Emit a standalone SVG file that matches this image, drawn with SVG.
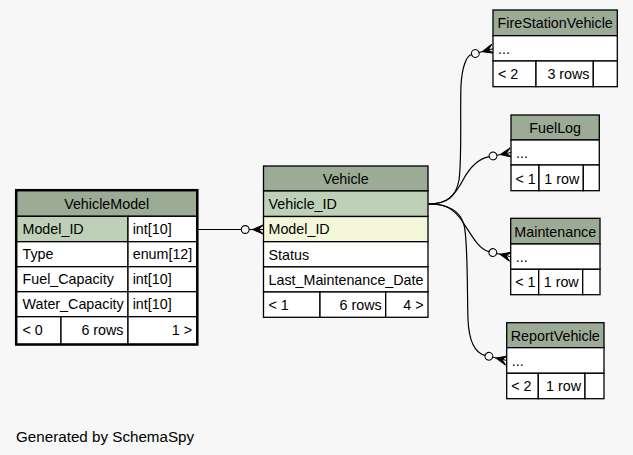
<svg xmlns="http://www.w3.org/2000/svg" xmlns:xlink="http://www.w3.org/1999/xlink" width="633" height="455" viewBox="0 0 633 455">
<style>
.bg{fill:#f7f7f7}
.c{stroke:#000;stroke-width:1.3}
.hdr{fill:#9bab96}
.pk{fill:#bed1b8}
.fk{fill:#f4f7da}
.w{fill:#ffffff}
.focus{fill:none;stroke:#000;stroke-width:2.5}
text{font-family:"Liberation Sans",Arial,Helvetica,sans-serif;font-size:14.3px;fill:#000}
.mid{text-anchor:middle}
.end{text-anchor:end}
.edge{fill:none;stroke:#000;stroke-width:1.2}
.foot{font-size:15.2px}
</style>
<defs>
<g id="crowodot">
<circle cx="-18.3" cy="0" r="3.9" fill="none" stroke="#000" stroke-width="1.1"/>
<line x1="-14.4" y1="0" x2="-10.5" y2="0" stroke="#000" stroke-width="1.1"/>
<polygon points="-11,0 0,-4.7 -5,0 0,4.7" fill="#000" stroke="#000" stroke-width="1"/>
<line x1="-5" y1="0" x2="0" y2="0" stroke="#000" stroke-width="1"/>
</g>
</defs>
<rect class="bg" x="0" y="0" width="633" height="455"/>

<g id="connectors">
<path class="edge" d="M197.3,229.5 L241.3,229.5"/>
<use xlink:href="#crowodot" transform="translate(263.5,229.5)"/>
<path class="edge" d="M428.5,204 C448,204 456,196 459,180 C462,160 460,110 461,85 C462,68 466,56 471.55,54.5"/>
<use xlink:href="#crowodot" transform="translate(493,48.8) rotate(-14.9)"/>
<path class="edge" d="M428.5,204 C448,204 455,195 463,180 C470,167 478.5,158.7 489.2,156.66"/>
<use xlink:href="#crowodot" transform="translate(511,152.5) rotate(-10.8)"/>
<path class="edge" d="M428.5,204 C445,204 452,208 460,218 C469,230 477,248.9 489.07,251.7"/>
<use xlink:href="#crowodot" transform="translate(510.7,256.7) rotate(13)"/>
<path class="edge" d="M428.5,204 C448,204 460,210 464,225 C468,240 467,290 468,320 C469,340 474,352.8 485.1,355.4"/>
<use xlink:href="#crowodot" transform="translate(506.7,360.5) rotate(13.3)"/>
</g>

<g id="VehicleModel">
<rect class="c hdr" x="16.2" y="190.2" width="181.1" height="26.1"/>
<rect class="c pk" x="16.2" y="216.3" width="111.8" height="25.4"/>
<rect class="c w" x="128" y="216.3" width="69.3" height="25.4"/>
<rect class="c w" x="16.2" y="241.7" width="111.8" height="25"/>
<rect class="c w" x="128" y="241.7" width="69.3" height="25"/>
<rect class="c w" x="16.2" y="266.7" width="111.8" height="25"/>
<rect class="c w" x="128" y="266.7" width="69.3" height="25"/>
<rect class="c w" x="16.2" y="291.7" width="111.8" height="25"/>
<rect class="c w" x="128" y="291.7" width="69.3" height="25"/>
<rect class="c w" x="16.2" y="316.7" width="44.8" height="27.8"/>
<rect class="c w" x="61" y="316.7" width="67" height="27.8"/>
<rect class="c w" x="128" y="316.7" width="69.3" height="27.8"/>
<rect class="focus" x="16.2" y="190.2" width="181.1" height="154.3"/>
<text class="mid" x="106.7" y="209">VehicleModel</text>
<text x="22.5" y="234.3">Model_ID</text>
<text x="132.7" y="234.3">int[10]</text>
<text x="22.5" y="259.3">Type</text>
<text x="132.7" y="259.3">enum[12]</text>
<text x="22.5" y="284.3">Fuel_Capacity</text>
<text x="132.7" y="284.3">int[10]</text>
<text x="22.5" y="309.3">Water_Capacity</text>
<text x="132.7" y="309.3">int[10]</text>
<text x="22.5" y="335">&lt; 0</text>
<text class="end" x="123.5" y="335">6 rows</text>
<text class="end" x="192" y="335">1 &gt;</text>
</g>

<g id="Vehicle">
<rect class="c hdr" x="263.5" y="166" width="164.5" height="25"/>
<rect class="c pk" x="263.5" y="191" width="164.5" height="25.5"/>
<rect class="c fk" x="263.5" y="216.5" width="164.5" height="25.2"/>
<rect class="c w" x="263.5" y="241.7" width="164.5" height="25.2"/>
<rect class="c w" x="263.5" y="266.9" width="164.5" height="25.1"/>
<rect class="c w" x="263.5" y="292" width="56.5" height="25.3"/>
<rect class="c w" x="320" y="292" width="65.7" height="25.3"/>
<rect class="c w" x="385.7" y="292" width="42.3" height="25.3"/>
<text class="mid" x="345.7" y="184">Vehicle</text>
<text x="268.5" y="209.2">Vehicle_ID</text>
<text x="268.5" y="234.3">Model_ID</text>
<text x="268.5" y="259.5">Status</text>
<text x="268.5" y="284.6">Last_Maintenance_Date</text>
<text x="268.5" y="310">&lt; 1</text>
<text class="end" x="381.7" y="310">6 rows</text>
<text class="end" x="423.5" y="310">4 &gt;</text>
</g>

<g id="FireStationVehicle">
<rect class="c hdr" x="493" y="10" width="124.3" height="25.7"/>
<rect class="c w" x="493" y="35.7" width="124.3" height="25.3"/>
<rect class="c w" x="493" y="61" width="43" height="25.7"/>
<rect class="c w" x="536" y="61" width="57.3" height="25.7"/>
<rect class="c w" x="593.3" y="61" width="24" height="25.7"/>
<text class="mid" x="555.2" y="28.2">FireStationVehicle</text>
<text x="498" y="53.5">...</text>
<text x="498" y="79.2">&lt; 2</text>
<text class="end" x="589.5" y="79.2">3 rows</text>
</g>

<g id="FuelLog">
<rect class="c hdr" x="511" y="115" width="88.3" height="25"/>
<rect class="c w" x="511" y="140" width="88.3" height="25"/>
<rect class="c w" x="511" y="165" width="28" height="25.7"/>
<rect class="c w" x="539" y="165" width="44.3" height="25.7"/>
<rect class="c w" x="583.3" y="165" width="16" height="25.7"/>
<text class="mid" x="555.2" y="133">FuelLog</text>
<text x="516" y="158.2">...</text>
<text x="515.5" y="183.5">&lt; 1</text>
<text class="end" x="579.3" y="183.5">1 row</text>
</g>

<g id="Maintenance">
<rect class="c hdr" x="510.7" y="218.3" width="89.3" height="25.7"/>
<rect class="c w" x="510.7" y="244" width="89.3" height="25.3"/>
<rect class="c w" x="510.7" y="269.3" width="28" height="25.4"/>
<rect class="c w" x="538.7" y="269.3" width="44" height="25.4"/>
<rect class="c w" x="582.7" y="269.3" width="17.3" height="25.4"/>
<text class="mid" x="555.3" y="236.5">Maintenance</text>
<text x="515.7" y="261.8">...</text>
<text x="515.2" y="287.2">&lt; 1</text>
<text class="end" x="578.7" y="287.2">1 row</text>
</g>

<g id="ReportVehicle">
<rect class="c hdr" x="506.7" y="322.7" width="97.3" height="25"/>
<rect class="c w" x="506.7" y="347.7" width="97.3" height="25.6"/>
<rect class="c w" x="506.7" y="373.3" width="31.6" height="25.4"/>
<rect class="c w" x="538.3" y="373.3" width="46.7" height="25.4"/>
<rect class="c w" x="585" y="373.3" width="19" height="25.4"/>
<text class="mid" x="555.3" y="340.8">ReportVehicle</text>
<text x="511.7" y="366">...</text>
<text x="511.2" y="391.3">&lt; 2</text>
<text class="end" x="581" y="391.3">1 row</text>
</g>

<text class="foot" x="16" y="441.5">Generated by SchemaSpy</text>
</svg>
